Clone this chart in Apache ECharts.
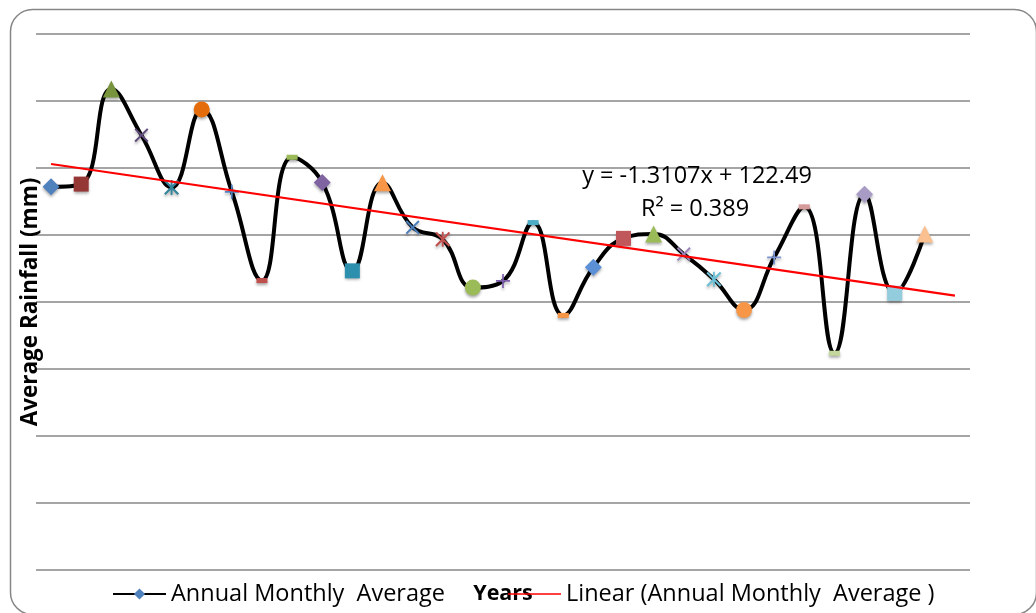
<!DOCTYPE html>
<html><head><meta charset="utf-8">
<script src="https://cdn.jsdelivr.net/npm/echarts@6/dist/echarts.min.js"></script>
<style>html,body{margin:0;padding:0;background:#fff}#c{width:1036px;height:613px}</style>
</head><body><div id="c"></div>
<script>
// ---- data ----
const categories = ['1','2','3','4','5','6','7','8','9','10','11','12','13','14','15','16','17','18','19','20','21','22','23','24','25','26','27','28','29','30','31'];
const rainfall = [114.4,115.2,143.6,129.8,114.2,137.5,112.9,86.4,123.2,115.7,89.3,115.6,102.3,98.7,84.3,86.3,103.7,76.0,90.4,99.0,100.3,94.3,86.8,77.6,93.3,108.4,64.7,112.2,82.6,100.3];
const trendIndex = [0, 30];
const trendValues = [121.2, 81.9];
const yMin = 0, yMax = 160, yInterval = 20;
const seriesName = 'Annual Monthly  Average';
const trendName = 'Linear (Annual Monthly  Average )';
const equationText = 'y = -1.3107x + 122.49';
const r2Text = 'R\u00B2 = 0.389';
const yTitle = 'Average Rainfall (mm)';
const xTitle = 'Years';

// ---- styles ----
const X = 'path://M1,0L5,4L9,0L10,1L6,5L10,9L9,10L5,6L1,10L0,9L4,5L0,1Z';
const PLUS = 'path://M4.4,0H5.6V4.4H10V5.6H5.6V10H4.4V5.6H0V4.4H4.4Z';
const STAR = 'path://M1,0L5,4L9,0L10,1L6,5L10,9L9,10L5,6L1,10L0,9L4,5L0,1Z M4.4,0L5.6,0L5.6,10L4.4,10Z';
const markerCycle = [
  {s:'diamond', z:17}, {s:'rect', z:15}, {s:'triangle', z:17}, {s:X, z:14}, {s:STAR, z:15},
  {s:'circle', z:16}, {s:PLUS, z:14}, {s:'rect', z:[11,5]}, {s:'rect', z:[11,5]}
];
const pointColors = ['#4F81BD','#953735','#77933C','#604A7B','#31859C','#E46C0A','#4F81BD','#C0504D','#9BBB59',
  '#8064A2','#2C8FAD','#F79646','#4A7EBB','#C0504D','#9BBB59','#7E5FAD','#4BACC6','#F79646',
  '#5B8FD6','#C0575A','#9BBB59','#9C84BB','#6BC0D6','#F79646','#7B96D0','#D79A9A','#C3D69B','#A89BC5','#93CDDD','#FAC090'];
const FONT = '"Open Sans", "Noto Sans", sans-serif';

const lineData = rainfall.map((v, i) => {
  const m = markerCycle[i % markerCycle.length];
  return {value: v, symbol: m.s, symbolSize: m.z, itemStyle: {color: pointColors[i]}};
});
const trendData = trendIndex.map((x, i) => [x, trendValues[i]]);

const chart = echarts.init(document.getElementById('c'), null, {renderer: 'canvas'});
chart.setOption({
  backgroundColor: '#fff',
  animation: false,
  grid: {left: 36, right: 66, top: 34, bottom: 43, containLabel: false},
  xAxis: {
    type: 'category', data: categories, boundaryGap: true,
    axisLine: {show: false}, axisTick: {show: false}, axisLabel: {show: false},
    splitLine: {show: false},
    name: xTitle, nameLocation: 'middle', nameGap: 13,
    nameTextStyle: {fontFamily: FONT, fontSize: 21.5, fontWeight: 'bold', color: '#000'}
  },
  yAxis: {
    type: 'value', min: yMin, max: yMax, interval: yInterval,
    axisLine: {show: false}, axisTick: {show: false}, axisLabel: {show: false},
    splitLine: {show: true, lineStyle: {color: '#878787', width: 1.5}},
    name: yTitle, nameLocation: 'middle', nameGap: -6,
    nameTextStyle: {fontFamily: FONT, fontSize: 22.5, fontWeight: 'bold', color: '#000'}
  },
  legend: {
    left: 107, top: 577, itemWidth: 53, itemHeight: 14, itemGap: 63,
    textStyle: {fontFamily: FONT, fontSize: 23.5, color: '#000'},
    data: [
      {name: seriesName},
      {name: trendName, icon: 'path://M0,6.2H53V7.8H0Z'}
    ]
  },
  series: [
    {
      name: seriesName, type: 'line', data: lineData, smooth: 0.45,
      symbol: 'diamond', symbolSize: 15,
      itemStyle: {color: '#4F81BD', shadowBlur: 3, shadowColor: 'rgba(0,0,0,0.35)', shadowOffsetY: 2},
      lineStyle: {color: '#000', width: 4},
      z: 2
    },
    {
      name: trendName, type: 'line', data: trendData, symbol: 'none',
      itemStyle: {color: '#FF0000'},
      lineStyle: {color: '#FF0000', width: 2.2}, z: 3
    }
  ],
  graphic: [
    {type: 'rect', left: 8, top: 7, z: -10, silent: true,
     shape: {x: 0, y: 0, width: 1026, height: 605, r: 22},
     style: {fill: 'none', stroke: '#868686', lineWidth: 1.5}},
    {type: 'text', x: 697, y: 176, z: 10, style: {text: equationText, font: '23.5px ' + FONT, fill: '#000', textAlign: 'center', textVerticalAlign: 'middle'}},
    {type: 'text', x: 695, y: 209, z: 10, style: {text: r2Text, font: '23.5px ' + FONT, fill: '#000', textAlign: 'center', textVerticalAlign: 'middle'}}
  ]
});
</script></body></html>
